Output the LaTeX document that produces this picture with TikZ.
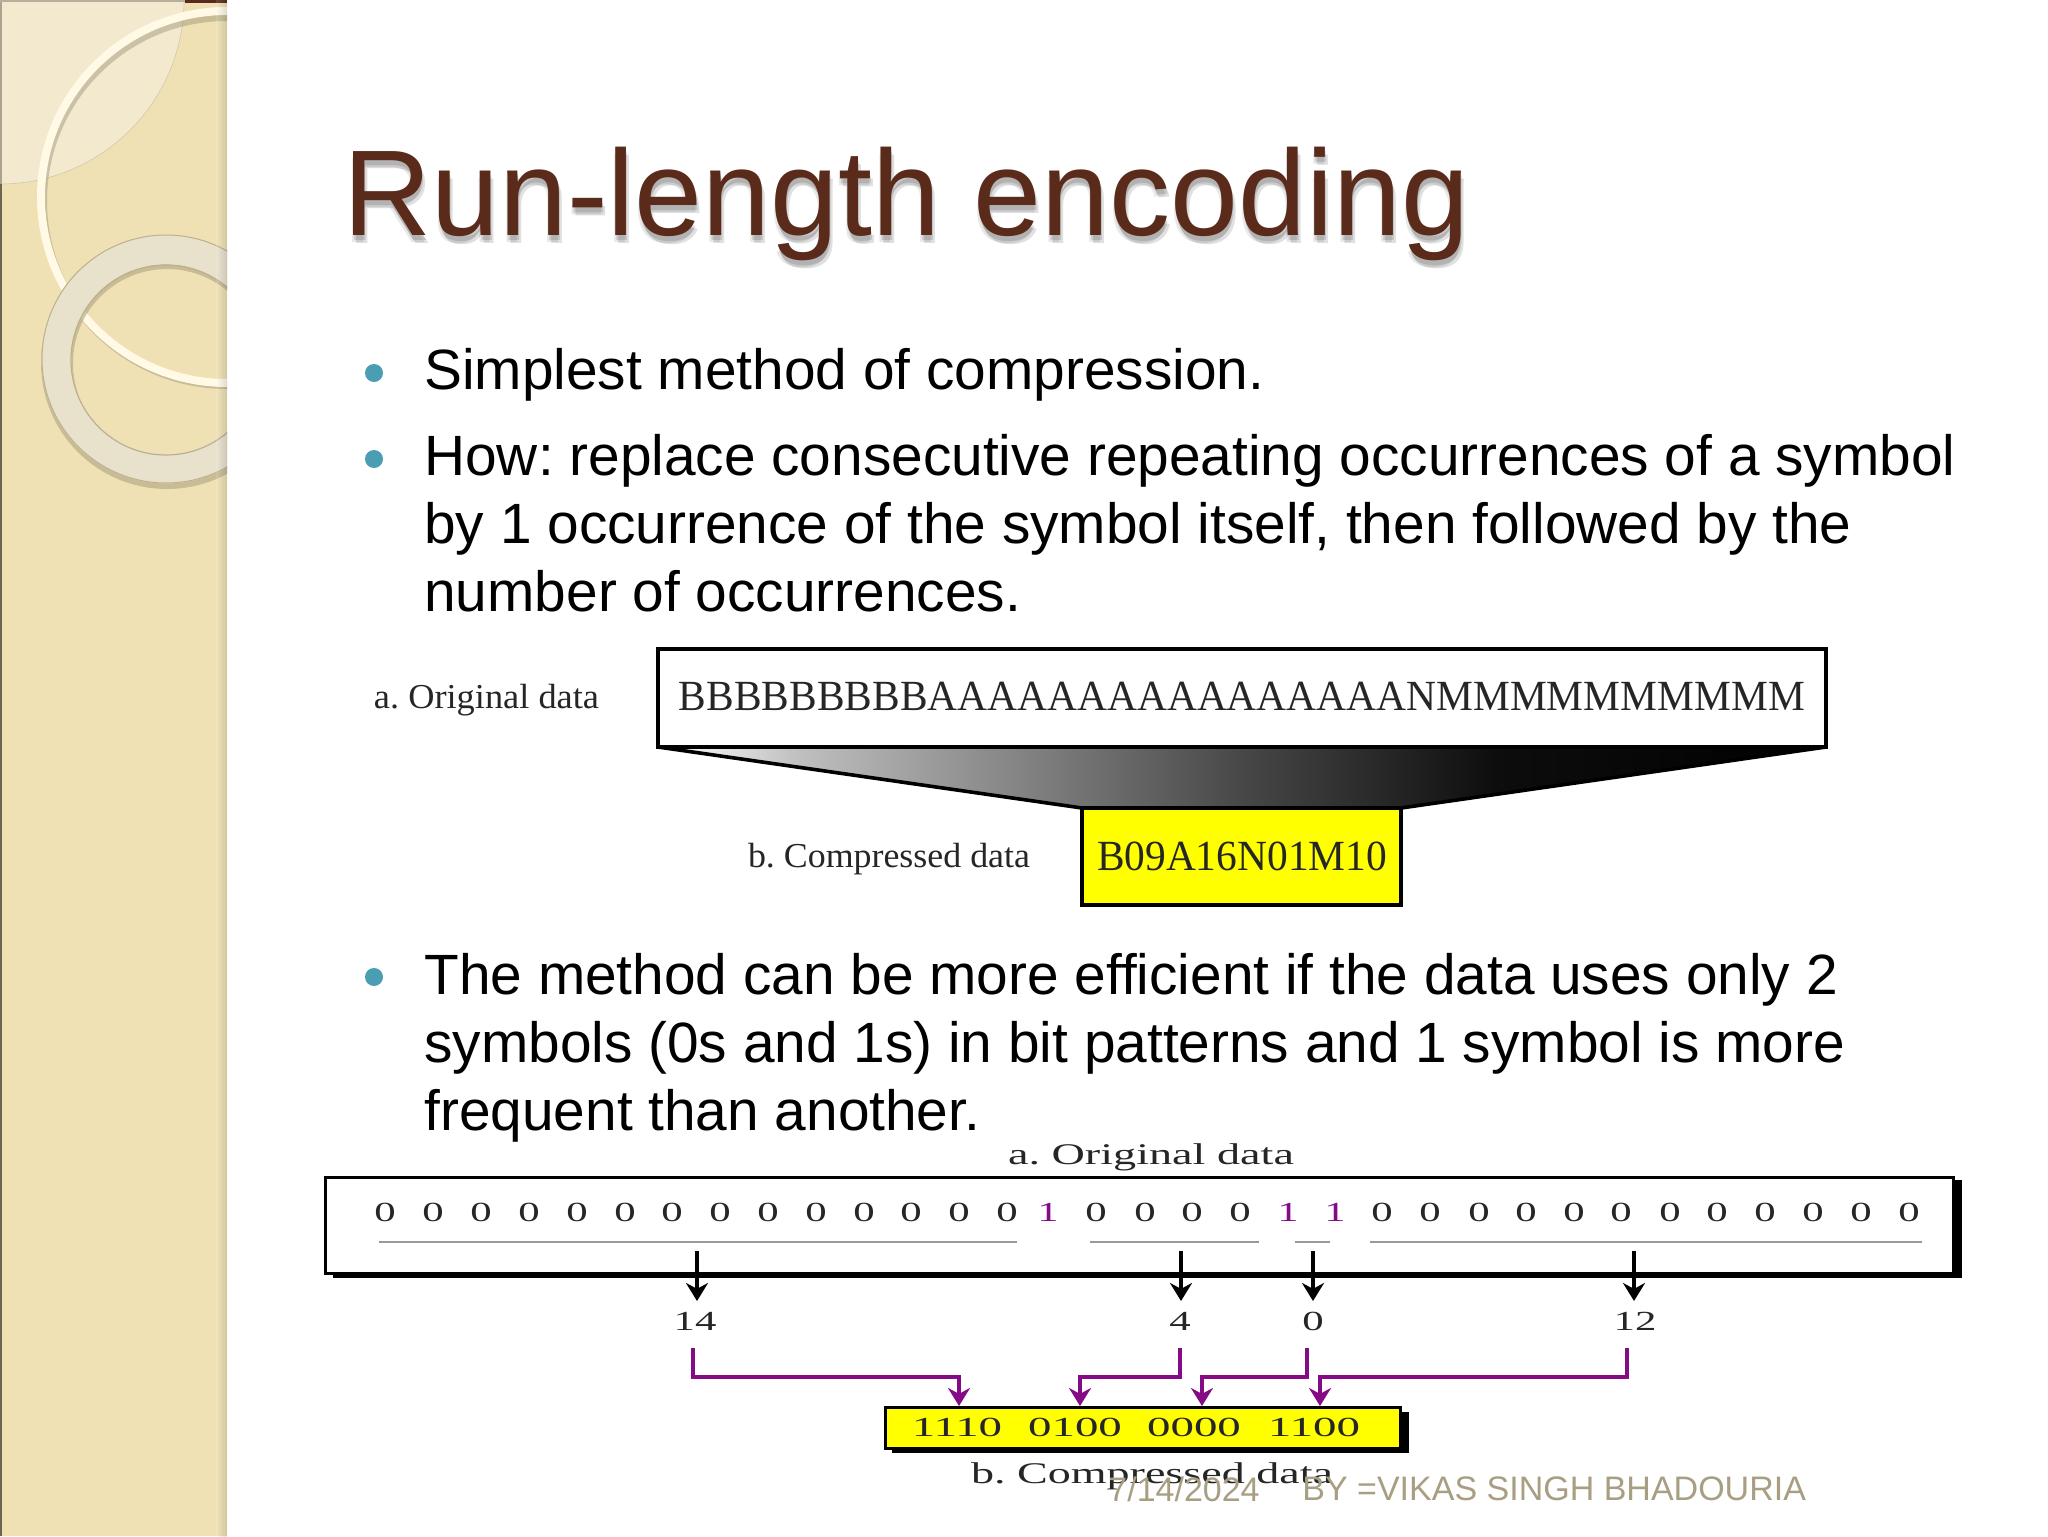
\documentclass[tikz,border=0pt]{standalone}
\usepackage{fontspec}
\setmainfont{Liberation Serif}
\newfontfamily\arialf{Liberation Sans}
\usetikzlibrary{arrows.meta}
\frenchspacing
\definecolor{sideb}{HTML}{EFE1B4}
\definecolor{sidel}{HTML}{F2E9CE}
\definecolor{ringc}{HTML}{E8E2CD}
\definecolor{ringl}{HTML}{FFF9E6}
\definecolor{ringe}{HTML}{BDB08A}
\definecolor{titlec}{HTML}{5A2A1A}
\definecolor{bulletc}{HTML}{4A9DB2}
\definecolor{footc}{HTML}{A89F82}
\definecolor{purp}{HTML}{850A85}
\definecolor{yel}{HTML}{FFFF00}
\pgfdeclarehorizontalshading{trapshade}{100bp}{
 color(0bp)=(white); color(25bp)=(white); color(31bp)=(black!25); color(50bp)=(black!72);
 color(61bp)=(black!95); color(75bp)=(black); color(100bp)=(black)}
\newcommand{\fitw}[3]{\resizebox{#1pt}{\height}{\fontsize{#2}{#2}\selectfont #3}}
\newcommand{\wbit}[1]{\scalebox{1.55}[1]{\fontsize{13.8}{14}\selectfont #1}}
\newcommand{\wcode}[1]{\scalebox{1.7}[1]{\fontsize{13.8}{14}\selectfont #1}}
\tikzset{
 titletext/.style={anchor=base west,inner sep=0,font=\arialf\fontsize{61}{70}\selectfont},
 body/.style={anchor=base west,inner sep=0,text=black,font=\arialf\fontsize{28.4}{34}\selectfont},
 bulletdot/.style={circle,fill=bulletc,minimum size=9pt,inner sep=0},
 scan/.style={inner sep=0,text=black!85},
 bitz/.style={inner sep=0,text=black!85},
 bito/.style={inner sep=0,text=purp},
 under/.style={line width=1.3pt,black!40},
 blackarrow/.style={line width=1.9pt,black,-{Stealth[length=9pt,width=11pt]}},
 purplearrow/.style={line width=2pt,purp,-{Stealth[length=9pt,width=11pt]}},
 footer/.style={anchor=west,inner sep=0,text=footc,font=\arialf\fontsize{17}{20}\selectfont},
}
\begin{document}
\begin{tikzpicture}[x=0.5pt,y=-0.5pt]
\useasboundingbox (0,0) rectangle (2048,1536);
\fill[white] (0,0) rectangle (2048,1536);
% sidebar
\begin{scope}
\clip (0,0) rectangle (227,1536);
\fill[sideb] (0,0) rectangle (227,1536);
\fill[sidel] (0,0) -- (184,0) arc[start angle=0,end angle=90,radius=184] -- cycle;
\draw[ringe!70,line width=.3pt] (184,0) arc[start angle=0,end angle=90,radius=184];
\fill[black!55!sideb] (0,184) rectangle (2,1536);
\fill[black!30!sidel] (0,0) rectangle (2,184);
\fill[black!25!sidel] (0,0) rectangle (227,2);
\fill[titlec] (185,0) rectangle (227,3);
% big ring
\draw[black!40!sideb,opacity=.4,line width=4pt] (227,201) circle[radius=184];
\draw[ringl,line width=4pt] (227,197) circle[radius=186];
% small ring
\draw[black!30!sideb,opacity=.55,line width=16pt] (167,363) circle[radius=110];
\draw[ringc,line width=15pt] (166,359) circle[radius=109.5];
\draw[ringe,line width=.5pt] (166,359) circle[radius=124];
\draw[ringe,line width=.6pt] (166,360) circle[radius=95];
\shade[left color=sideb!0,right color=black,opacity=.12] (216,0) rectangle (227,1536);
\end{scope}
% title
\node[titletext,text=black,opacity=.09] (titleshadowa) at (342,242) {Run-length encoding};
\node[titletext,text=black,opacity=.12] (titleshadowb) at (346,243) {Run-length encoding};
\node[titletext,text=black,opacity=.12] (titleshadowc) at (344,240) {Run-length encoding};
\node[titletext,text=titlec] (title) at (343,235) {Run-length encoding};
% body
\node[bulletdot] (b1) at (374,373) {};
\node[bulletdot] (b2) at (374,459) {};
\node[bulletdot] (b3) at (374,977) {};
\node[body] (l1) at (424,389) {Simplest method of compression.};
\node[body] (l2) at (424,475) {How: replace consecutive repeating occurrences of a symbol};
\node[body] (l3) at (424,543) {by 1 occurrence of the symbol itself, then followed by the};
\node[body] (l4) at (424,611) {number of occurrences.};
\node[body] (l5) at (424,994) {The method can be more efficient if the data uses only 2};
\node[body] (l6) at (424,1062) {symbols (0s and 1s) in bit patterns and 1 symbol is more};
\node[body] (l7) at (424,1130) {frequent than another.};
% first figure
\shade[shading=trapshade] (658,747) -- (1082,808) -- (1401,808) -- (1826,747) -- cycle;
\coordinate (tl) at (658,747);
\coordinate (tr) at (1826,747);
\coordinate (bl) at (1082,808);
\coordinate (br) at (1401,808);
\draw[black,line width=1.8pt] (tl) -- (bl);
\draw[black,line width=1.8pt] (tr) -- (br);
\draw[black,line width=1.9pt,fill=white] (658,649) rectangle (1826,747);
\draw[black,line width=1.8pt,fill=yel] (1082,808) rectangle (1401,905);
\node[scan] (orig1) at (486.5,700) {\fitw{112.5}{17.5}{a. Original data}};
\node[scan] (comp1) at (889,859) {\fitw{141}{17.5}{b. Compressed data}};
\node[scan] (bigtext) at (1242,696) {\fitw{563}{21.5}{BBBBBBBBBAAAAAAAAAAAAAAAANMMMMMMMMMM}};
\node[scan] (cmptext) at (1242,856) {\fitw{145}{21.5}{B09A16N01M10}};
% second figure
\fill[black] (333,1180) -- (1962,1180) -- (1962,1278) -- (333,1278) -- cycle;
\draw[black,line width=1.5pt,fill=white] (325,1177) rectangle (1953,1273);
\foreach \i/\x in {1/385,2/433,3/481,4/529,5/577,6/625,7/672,8/720,9/768,10/816,11/864,12/911,13/959,14/1007,15/1096,16/1145,17/1192,18/1240,19/1382,20/1430,21/1479,22/1526,23/1574,24/1621,25/1670,26/1717,27/1765,28/1813,29/1861,30/1909}
  \node[bitz] (z\i) at (\x,1212) {\wbit{0}};
\foreach \i/\x in {1/1048,2/1288,3/1335}
  \node[bito] (o\i) at (\x,1212) {\wbit{1}};
\draw[under] (379,1242) -- (1017,1242);
\draw[under] (1090,1242) -- (1259,1242);
\draw[under] (1295,1242) -- (1330,1242);
\draw[under] (1370,1242) -- (1922,1242);
\node[scan] (orig2) at (1151,1157) {\fitw{143}{15}{a. Original data}};
\node[bitz] (n14) at (695,1321) {\wbit{14}};
\node[bitz] (n4) at (1180,1321) {\wbit{4}};
\node[bitz] (n0) at (1313,1321) {\wbit{0}};
\node[bitz] (n12) at (1635,1321) {\wbit{12}};
\foreach \n/\x in {a/697,b/1181,c/1313,d/1634}{
  \coordinate (s\n) at (\x,1251);
  \coordinate (e\n) at (\x,1301);
  \draw[blackarrow] (s\n) -- (e\n);
}
\fill[black] (892,1412) rectangle (1409,1453);
\draw[black,line width=1.5pt,fill=yel] (885.5,1407) rectangle (1400,1448);
\foreach \n/\sx/\ex in {a/693/959,b/1180/1080,c/1307/1202,d/1627/1320}{
  \coordinate (ps\n) at (\sx,1348);
  \coordinate (pe\n) at (\ex,1406);
  \draw[purplearrow] (ps\n) |- (\ex,1377) -- (pe\n);
}
\node[scan] (c1) at (957,1427) {\wcode{1110}};
\node[scan] (c2) at (1075,1427) {\wcode{0100}};
\node[scan] (c3) at (1194,1427) {\wcode{0000}};
\node[scan] (c4) at (1314,1427) {\wcode{1100}};
\node[scan] (comp2) at (1152,1476) {\fitw{181}{15}{b. Compressed data}};
% footer
\node[footer] (date) at (1108,1489) {7/14/2024};
\node[footer] (author) at (1302,1489) {BY =VIKAS SINGH BHADOURIA};
\end{tikzpicture}
\end{document}
